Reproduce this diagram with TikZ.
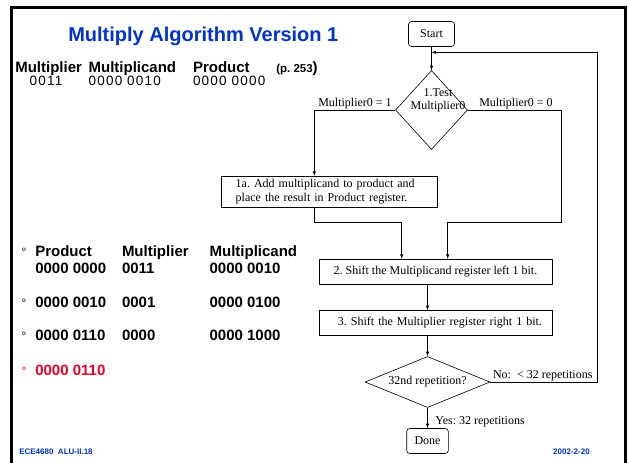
\documentclass[tikz,border=0pt]{standalone}
\usepackage{fontspec}
\setmainfont{Liberation Serif}
\setsansfont{Liberation Sans}
\newfontfamily\digitfont[LetterSpace=9]{Liberation Sans}
\usetikzlibrary{shapes.geometric}
\definecolor{slideblue}{RGB}{0,51,204}
\definecolor{slidered}{RGB}{235,0,40}
\frenchspacing

\begin{document}
\begin{tikzpicture}[->,>=latex,x=1pt,y=-1pt,line width=.6pt,
  every node/.style={inner sep=0pt,font=\fontsize{12}{11.3}\selectfont},
  term/.style={draw,rounded corners=3pt,minimum width=46pt,minimum height=25pt},
  stepbox/.style={draw,rectangle,minimum width=233pt,minimum height=25pt},
  decision/.style={draw,diamond},
  head/.style={anchor=base west,font=\sffamily\bfseries\fontsize{15}{17}\selectfont},
  digits/.style={anchor=base west,font=\digitfont\fontsize{13.5}{14}\selectfont},
  bul/.style={anchor=base,font=\sffamily\fontsize{12}{12}\selectfont},
  foot/.style={font=\sffamily\bfseries\fontsize{8}{9}\selectfont,text=slideblue}]
   \useasboundingbox (0,0) rectangle (629,463);
   \draw[-,line width=2.2pt] (11.5,470) -- (11.5,7.5) -- (625.5,7.5) -- (625.5,470);

   % title and header
   \node[anchor=base west,font=\sffamily\bfseries\fontsize{20}{22}\selectfont,text=slideblue] (title) at (68,41) {Multiply Algorithm Version 1};
   \node[head] (hmplier) at (15,72.7) {Multiplier};
   \node[head] (hmcand) at (88.3,72.7) {Multiplicand};
   \node[head] (hprod) at (192.7,72.7) {Product};
   \node[head] (hpage) at (276,72.7) {{\fontsize{11.5}{12}\selectfont(p. 253})};
   \node[digits] (vmplier) at (29.3,85) {0011};
   \node[digits] (vmcand) at (88.3,85) {0000 0010};
   \node[digits] (vprod) at (192.7,85) {0000 0000};

   % flow chart
   \node[term] (start) at (431.5,34) {Start};
   \node[decision,minimum width=72pt,minimum height=79pt] (test) at (431.5,110) {};
   \node[align=center,font=\fontsize{12}{12.5}\selectfont] (testtext) at (438,100.5) {1.Test\\Multiplier0};
   \node[draw,minimum width=216pt,minimum height=31pt,text width=188pt,align=left,
         font=\fontsize{12}{13.7}\selectfont] (box1a) at (329.7,191.7)
        {1a. Add multiplicand to product and\\place the result in Product register.};
   \node[stepbox] (box2) at (435.4,271.7) {2. Shift the Multiplicand register left 1 bit.};
   \node[stepbox,text width=213pt,align=right] (box3) at (435.4,322.9) {3. Shift the Multiplier register right 1 bit.};
   \node[decision,minimum width=125pt,minimum height=51pt] (rep) at (427.5,382) {};
   \node[anchor=base] (reptext) at (427.5,384.3) {32nd repetition?};
   \node[term,minimum width=41.6pt] (done) at (427.5,441) {Done};

   \node[anchor=base west] (lone) at (318,106) {Multiplier0 = 1};
   \node[anchor=base west] (lzero) at (479,106) {Multiplier0 = 0};
   \node[anchor=base west] (lno) at (492.7,378.3) {No:~~< 32 repetitions};
   \node[anchor=base west] (lyes) at (435,424) {Yes: 32 repetitions};

   \coordinate (lbend) at (401.7,222.3);
   \coordinate (rbend) at (561,222.3);
   \coordinate (loopin) at (431.5,52.3);

   \path (start) edge (test);
   \draw (test.west) -| ([xshift=-15.4pt]box1a.north);
   \draw (test.east) -| (rbend) -| ([xshift=12.3pt]box2.north);
   \draw ([xshift=-15.4pt]box1a.south) |- (lbend) -- ([xshift=-33.7pt]box2.north);
   \draw (box2.south -| rep.north) -- (box3.north -| rep.north);
   \draw (box3.south -| rep.north) -- (rep.north);
   \draw (rep.east) -- ++(107,0) |- (loopin);
   \draw (rep.south) -- (done.north);

   % trace of the registers
   \node[bul] (b1) at (24,256.7) {°};
   \node[head] (tprod) at (35,256.7) {Product};
   \node[head] (tmplier) at (121.7,256.7) {Multiplier};
   \node[head] (tmcand) at (209.3,256.7) {Multiplicand};
   \node[head] (p0) at (35,273.3) {0000 0000};
   \node[head] (m0) at (121.7,273.3) {0011};
   \node[head] (c0) at (209.3,273.3) {0000 0010};
   \node[bul] (b2) at (24,307.3) {°};
   \node[head] (p1) at (35,307.3) {0000 0010};
   \node[head] (m1) at (121.7,307.3) {0001};
   \node[head] (c1) at (209.3,307.3) {0000 0100};
   \node[bul] (b3) at (24,340.7) {°};
   \node[head] (p2) at (35,340.7) {0000 0110};
   \node[head] (m2) at (121.7,340.7) {0000};
   \node[head] (c2) at (209.3,340.7) {0000 1000};
   \node[bul,text=slidered] (b4) at (24,375.7) {°};
   \node[head,text=slidered] (p3) at (35,375.7) {0000 0110};

   % footer
   \node[foot,anchor=base west] (course) at (19,454) {ECE4680\ \ ALU-II.18};
   \node[foot,anchor=base east] (date) at (590,454) {2002-2-20};
\end{tikzpicture}
\end{document}
